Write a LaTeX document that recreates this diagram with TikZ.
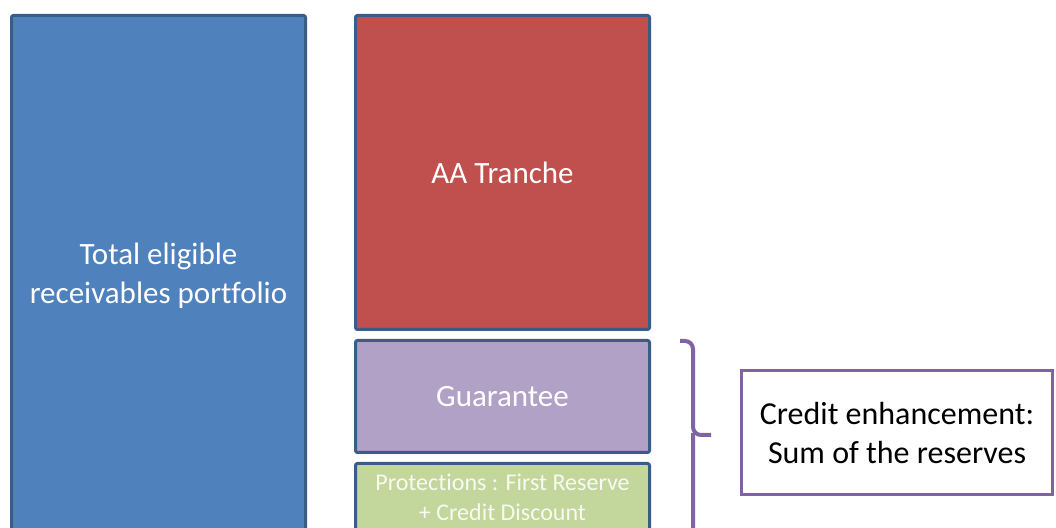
\documentclass[tikz,border=0pt]{standalone}
\usepackage{fontspec}
\setmainfont[Ligatures=NoCommon]{Carlito}
\usetikzlibrary{positioning}
\definecolor{edge}{HTML}{385D8A}
\definecolor{poolblue}{HTML}{4F81BD}
\definecolor{seniorred}{HTML}{C0504D}
\definecolor{guarlilac}{HTML}{B2A1C7}
\definecolor{protgreen}{HTML}{C3D69B}
\definecolor{enhpurple}{HTML}{8064A2}

\begin{document}
\begin{tikzpicture}[x=0.5pt,y=-0.5pt,font=\fontsize{15.5}{19.5}\selectfont,
  block/.style={draw=edge,line width=1.5pt,rounded corners=1pt,align=center,
                text=white,inner sep=2pt,minimum width=147pt},
  brace/.style={draw=enhpurple,line width=2pt,rounded corners=4pt}]

\useasboundingbox (0,0) rectangle (1056,528);
\clip (0,0) rectangle (1056,528);

% pool of receivables on the left
\node[block,fill=poolblue,anchor=north west,minimum height=260pt]
  (pool) at (10,14) {Total eligible\\ receivables portfolio};

% tranche stack
\node[block,fill=seniorred,anchor=north west,minimum height=157pt]
  (aa) at (354,14) {AA Tranche};
\node[block,fill=guarlilac,minimum height=56pt,below=4pt of aa] (guar) {Guarantee};
\node[block,fill=protgreen,minimum height=34pt,below=4pt of guar,
      font=\fontsize{12}{15}\selectfont,text=white!88!protgreen]
  (prot) {Protections : First Reserve\\ + Credit Discount};

% brace over guarantee + protections
\draw[brace] (680,341) -- (693,341) -- (693,435) -- (711,435);
\draw[brace] (693,433) -- (693,541) -- (680,541);

\node[draw=enhpurple,line width=1.5pt,fill=white,align=center,
      font=\fontsize{16}{19.5}\selectfont,
      minimum width=155.5pt,minimum height=62pt] (enh) at (897,433)
  {Credit enhancement:\\ Sum of the reserves};
\end{tikzpicture}
\end{document}
